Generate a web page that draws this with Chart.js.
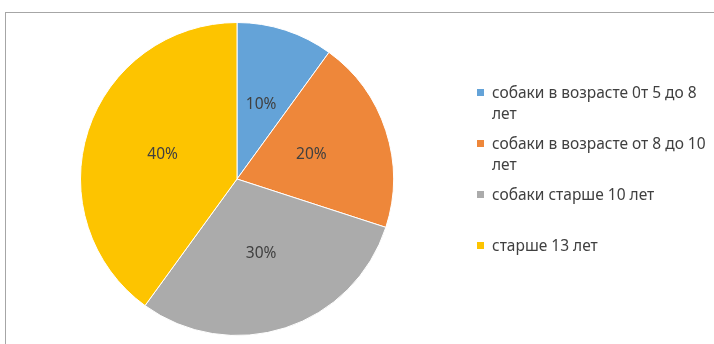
<!DOCTYPE html>
<html>
<head>
<meta charset="utf-8">
<script src="https://cdn.jsdelivr.net/npm/chart.js@4"></script>
<style>
    html, body { margin: 0; padding: 0; background: #ffffff; }
    #wrap { position: relative; width: 714px; height: 344px; overflow: hidden; }
    #frame { position: absolute; left: 5px; top: 12px; width: 720px; height: 340px;
             border-left: 1px solid #a6a6a6; border-top: 1px solid #a6a6a6; }
    #myChart { position: absolute; left: 0; top: 0; }
    .leg { position: absolute; left: 477px; width: 234px; font-family: "Noto Sans", sans-serif;
           font-size: 15.5px; line-height: 21px; color: #404040; }
    .leg .sw { position: absolute; left: 0; top: 7px; width: 7px; height: 7px; }
    .leg .tx { margin-left: 15px; }
</style>
</head>
<body>
<div id="wrap">
    <div id="frame"></div>
    <canvas id="myChart" width="714" height="344"></canvas>
    <div id="legend"></div>
</div>
<script>
var labels = [
    "собаки в возрасте 0т 5 до 8 лет",
    "собаки в возрасте от 8 до 10 лет",
    "собаки старше 10 лет",
    "старше 13 лет"
];
var values = [10, 20, 30, 40];
var colors = ["#64a3d8", "#ee873a", "#ababab", "#fdc400"];

// подписи процентов в середине сектора
var pctLabels = {
    id: "pctLabels",
    afterDatasetsDraw: function(chart) {
        var ctx = chart.ctx;
        var meta = chart.getDatasetMeta(0);
        var total = values.reduce(function(a, b) { return a + b; }, 0);
        ctx.save();
        ctx.font = "15.5px 'Noto Sans', sans-serif";
        ctx.fillStyle = "#404040";
        ctx.textAlign = "center";
        ctx.textBaseline = "middle";
        meta.data.forEach(function(arc, i) {
            var p = arc.getCenterPoint();
            ctx.fillText(Math.round(values[i] / total * 100) + "%", p.x, p.y);
        });
        ctx.restore();
    }
};

var ctx = document.getElementById("myChart").getContext("2d");
var myChart = new Chart(ctx, {
    type: "pie",
    data: {
        labels: labels,
        datasets: [{
            data: values,
            backgroundColor: colors,
            borderColor: "#ffffff",
            borderWidth: 1
        }]
    },
    options: {
        responsive: false,
        animation: false,
        layout: {
            padding: { left: 80, right: 320, top: 22, bottom: 8 }
        },
        plugins: {
            legend: { display: false },
            tooltip: { enabled: false }
        }
    },
    plugins: [pctLabels]
});

// легенда справа
var legend = document.getElementById("legend");
labels.forEach(function(text, i) {
    var item = document.createElement("div");
    item.className = "leg";
    item.style.top = (82 + 51 * i) + "px";
    item.innerHTML = '<div class="sw" style="background:' + colors[i] + '"></div><div class="tx">' + text + '</div>';
    legend.appendChild(item);
});
</script>
</body>
</html>
